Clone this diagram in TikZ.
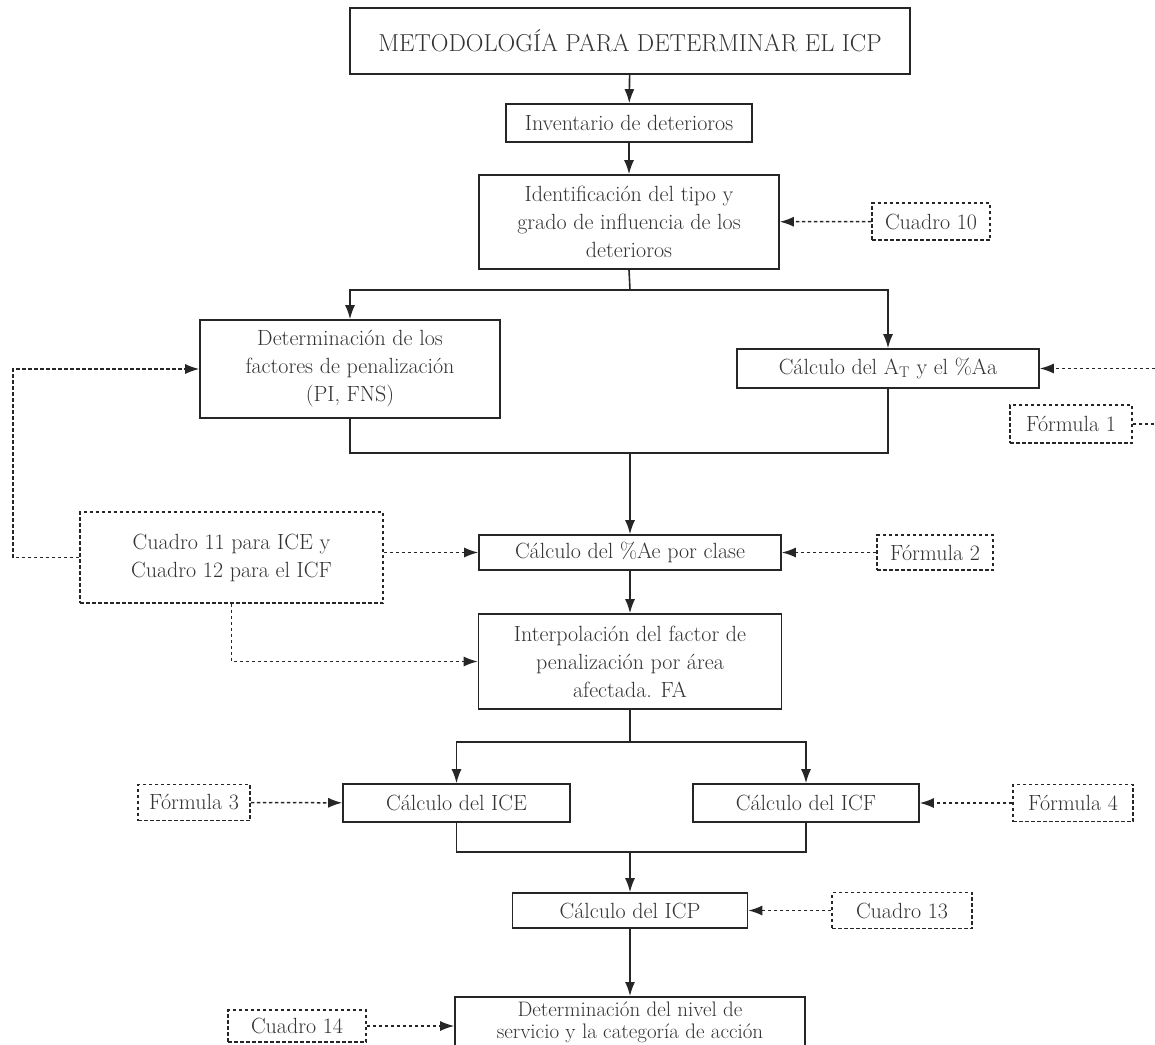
\documentclass[tikz,border=0pt]{standalone}
\usetikzlibrary{arrows.meta}
\definecolor{linec}{HTML}{262626}
\definecolor{textc}{HTML}{333333}
\tikzset{
  box/.style={draw=linec, line width=1.6pt, fill=white, align=center, text=textc,
    font=\fontsize{22}{28}\selectfont, inner sep=0pt},
  dbox/.style={box, dash pattern=on 3.5pt off 2.5pt, line width=1.5pt},
  conn/.style={draw=linec, line width=1.6pt},
  arr/.style={conn, -{Latex[length=14pt,width=10pt]}},
  dline/.style={draw=linec, line width=1.5pt, dash pattern=on 3.5pt off 2.5pt},
  darr/.style={dline, -{Latex[length=14pt,width=10pt]}}
}
\begin{document}
\begin{tikzpicture}[x=1pt,y=-1pt]
\useasboundingbox (0,0) rectangle (1155,1044);
\clip (0,0) rectangle (1155,1044);
\fill[white] (0,0) rectangle (1155,1044);

% main boxes
\node[box, minimum width=560pt, minimum height=66pt, font=\fontsize{24.5}{28}\selectfont] (title) at (630,41) {METODOLOGÍA PARA DETERMINAR EL ICP};
\node[box, minimum width=246pt, minimum height=38pt] (inv) at (629,123) {Inventario de deterioros};
\node[box, minimum width=300pt, minimum height=94pt] (ident) at (629,222) {Identificación del tipo y\\grado de influencia de los\\deterioros};
\node[box, minimum width=300pt, minimum height=98pt] (det) at (350,369) {Determinación de los\\factores de penalización\\(PI, FNS)};
\node[box, minimum width=302pt, minimum height=39pt] (at) at (888,368.5) {Cálculo del A\textsubscript{T} y el \%Aa};
\node[box, minimum width=302pt, minimum height=35pt] (ae) at (630,552.5) {Cálculo del \%Ae por clase};
\node[box, minimum width=303pt, minimum height=95pt] (interp) at (630,661.5) {Interpolación del factor de\\penalización por área\\afectada. FA};
\node[box, minimum width=227pt, minimum height=38pt] (ice) at (456.5,803) {Cálculo del ICE};
\node[box, minimum width=226pt, minimum height=38pt] (icf) at (806,803) {Cálculo del ICF};
\node[box, minimum width=235pt, minimum height=35pt] (icp) at (630,910.5) {Cálculo del ICP};
\node[box, minimum width=350pt, anchor=north, inner ysep=5pt, text depth=20pt,
      font=\fontsize{21}{22}\selectfont] (fin) at (630,996) {Determinación del nivel de\\servicio y la categoría de acción};

% dashed reference boxes
\node[dbox, minimum width=118pt, minimum height=37pt] (c10) at (931,221.5) {Cuadro 10};
\node[dbox, minimum width=122pt, minimum height=38pt] (f1) at (1071,424) {Fórmula 1};
\node[dbox, minimum width=116pt, minimum height=35pt] (f2) at (935,552.5) {Fórmula 2};
\node[dbox, minimum width=303pt, minimum height=91pt] (c11) at (231.5,557.5) {Cuadro 11 para ICE y\\Cuadro 12 para el ICF};
\node[dbox, minimum width=112pt, minimum height=36pt] (f3) at (194,802.5) {Fórmula 3};
\node[dbox, minimum width=120pt, minimum height=37pt] (f4) at (1073,803) {Fórmula 4};
\node[dbox, minimum width=140pt, minimum height=36pt] (c13) at (902,910.5) {Cuadro 13};
\node[dbox, minimum width=138pt, minimum height=32pt] (c14) at (297,1026) {Cuadro 14};

% helper coordinates
\coordinate (s1) at (630,290);
\coordinate (j1) at (630,453);
\coordinate (s2) at (630,742);
\coordinate (j2) at (630,852);
\coordinate (r1) at (1155,368.5);
\coordinate (r2) at (1155,424);
\coordinate (L1) at (13,557.5);

% solid connectors
\draw[arr] (title) -- (inv);
\draw[arr] (inv) -- (ident);
\draw[conn] (ident.south) -- (s1);
\draw[arr] (s1) -| (det);
\draw[arr] (s1) -| (at);
\draw[conn] (det.south) |- (j1);
\draw[conn] (at.south) |- (j1);
\draw[arr] (j1) -- (ae);
\draw[arr] (ae) -- (interp);
\draw[conn] (interp.south) -- (s2);
\draw[arr] (s2) -| (ice);
\draw[arr] (s2) -| (icf);
\draw[conn] (ice.south) |- (j2);
\draw[conn] (icf.south) |- (j2);
\draw[arr] (j2) -- (icp);
\draw[arr] (icp) -- (fin);

% dashed connectors
\draw[darr] (c10) -- (ident);
\draw[darr] (r1) -- (at);
\draw[dline] (f1) -- (r2);
\draw[darr] (f2) -- (ae);
\draw[darr] (c11.east |- ae) -- (ae);
\draw[darr] (c11.west) -- (L1) |- (det);
\draw[darr] (c11.south) |- (interp);
\draw[darr] (f3) -- (ice);
\draw[darr] (f4) -- (icf);
\draw[darr] (c13) -- (icp);
\draw[darr] (c14) -- (c14 -| fin.west);
\end{tikzpicture}
\end{document}
